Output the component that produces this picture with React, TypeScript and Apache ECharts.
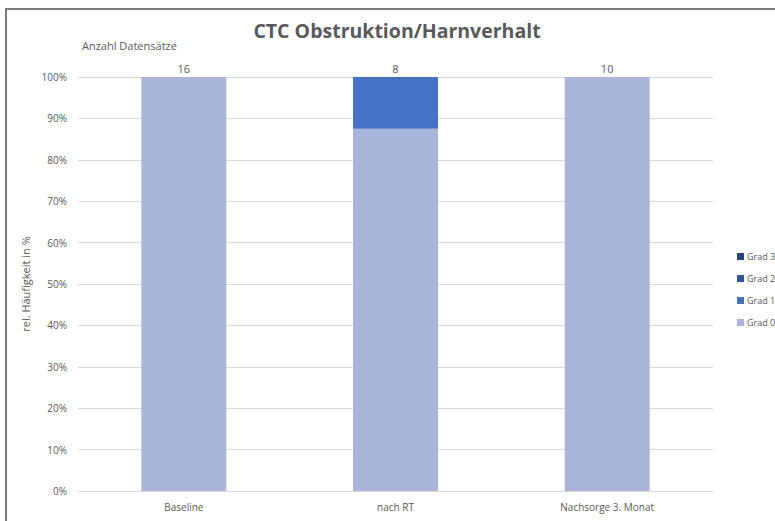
import React, { useEffect, useRef } from "react";
import * as echarts from "echarts";

const categories = ["Baseline", "nach RT", "Nachsorge 3. Monat"];
const grad0 = [100, 87.5, 100];
const grad1 = [0, 12.5, 0];
const grad2 = [0, 0, 0];
const grad3 = [0, 0, 0];
const counts = [16, 8, 10];
const yTicks = [0, 10, 20, 30, 40, 50, 60, 70, 80, 90, 100];

const FONT = "'Open Sans', 'Noto Sans', sans-serif";

export default function App() {
  const ref = useRef<HTMLDivElement>(null);
  useEffect(() => {
    if (!ref.current) return;
    const chart = echarts.init(ref.current, undefined, { renderer: "svg" });
    const colors: Record<string, string> = {
      "Grad 0": "#A9B5DA",
      "Grad 1": "#4472C4",
      "Grad 2": "#2F5597",
      "Grad 3": "#264478",
    };
    const mk = (name: string, data: number[], withLabel = false) => ({
      name,
      type: "bar",
      stack: "total",
      data,
      barWidth: 85,
      itemStyle: { color: colors[name] },
      label: withLabel
        ? {
            show: true,
            position: "top",
            distance: 3,
            color: "#595959",
            fontSize: 11,
            fontFamily: FONT,
            formatter: (p: any) => String(counts[p.dataIndex]),
          }
        : { show: false },
    });
    chart.setOption({
      animation: false,
      textStyle: { fontFamily: FONT },
      title: {
        text: "CTC Obstruktion/Harnverhalt",
        left: 397,
        top: 20,
        textAlign: "center",
        padding: 0,
        textStyle: { fontSize: 19.5, fontWeight: "bold", color: "#595959", fontFamily: FONT },
      },
      graphic: [
        {
          type: "rect",
          shape: { x: 6, y: 9, width: 820, height: 560 },
          style: { fill: "none", stroke: "#7a7a7a", lineWidth: 2 },
          silent: true,
        },
        {
          type: "text",
          x: 82,
          y: 40,
          style: { text: "Anzahl Datensätze", fontSize: 11, fill: "#595959", fontFamily: FONT },
        },
      ],
      legend: {
        orient: "vertical",
        left: 737,
        top: 250,
        padding: 0,
        itemWidth: 7,
        itemHeight: 7,
        itemGap: 9,
        icon: "rect",
        data: ["Grad 3", "Grad 2", "Grad 1", "Grad 0"],
        textStyle: {
          fontSize: 9,
          color: "#595959",
          fontFamily: FONT,
          padding: [0, 0, 0, -2],
          overflow: "none",
          width: 40,
          height: 13,
          lineHeight: 13,
        },
      },
      grid: { left: 78, right: 62, top: 77, bottom: 30 },
      xAxis: {
        type: "category",
        data: categories,
        axisLine: { lineStyle: { color: "#D9D9D9" } },
        axisTick: { show: false },
        axisLabel: { color: "#595959", fontSize: 10, margin: 11, fontFamily: FONT },
      },
      yAxis: {
        type: "value",
        min: 0,
        max: 100,
        interval: 10,
        name: "rel. Häufigkeit in %",
        nameLocation: "middle",
        nameGap: 44,
        nameTextStyle: { color: "#595959", fontSize: 11, fontFamily: FONT },
        axisLabel: {
          color: "#595959",
          fontSize: 10,
          margin: 11,
          fontFamily: FONT,
          formatter: (v: number) => (yTicks.includes(v) ? v + "%" : ""),
        },
        splitLine: { lineStyle: { color: "#D9D9D9" } },
        axisLine: { show: false },
        axisTick: { show: false },
      },
      series: [
        mk("Grad 0", grad0),
        mk("Grad 1", grad1),
        mk("Grad 2", grad2),
        mk("Grad 3", grad3, true),
      ],
    });
    return () => chart.dispose();
  }, []);
  return (
    <div
      ref={ref}
      style={{ position: "fixed", left: 0, top: 0, width: 775, height: 521, background: "#fff" }}
    />
  );
}
